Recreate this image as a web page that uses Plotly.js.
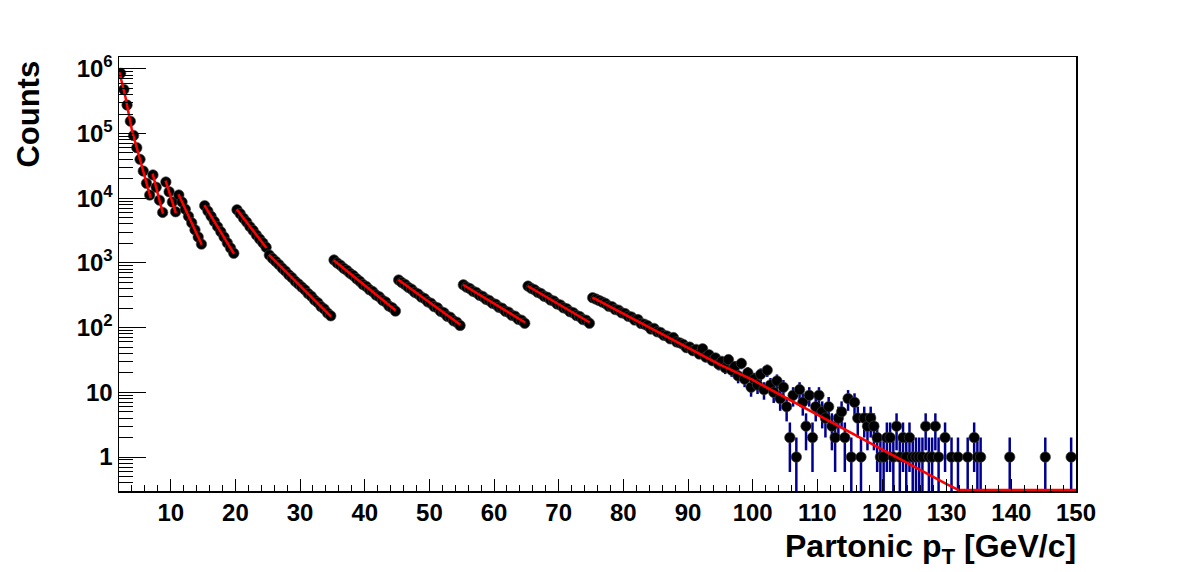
<!DOCTYPE html>
<html><head><meta charset="utf-8">
<script src="https://cdn.plot.ly/plotly-3.0.1.min.js"></script>
<style>html,body{margin:0;padding:0;background:#fff}#chart{width:1196px;height:572px}</style>
</head><body><div id="chart"></div>
<script>
// Histogram definition
const histLow = 2, binWidth = 0.5;

// Bin contents per partonic pT-hat sample
const seg2to7   = [851000, 479000, 275000, 155000, 93300, 60300, 39800, 26300, 17000, 11200];
const seg7to9   = [22900, 14800, 9330, 6030];
const seg9to11  = [17800, 12600, 8710, 6170];
const seg11to15 = [11200, 8710, 6760, 5250, 4170, 3240, 2510, 1950];
const seg15to20 = [7670, 6310, 5250, 4370, 3630, 3020, 2510, 2040, 1700, 1410];
const seg20to25 = [6610, 5750, 4900, 4270, 3630, 3160, 2690, 2340, 2040, 1740];
const seg25to35 = [1320, 1170, 1050, 940, 828, 745, 655, 592, 520, 472, 424, 383, 336, 305, 266, 243, 211, 193, 168, 152];
const seg35to45 = [1110, 995, 918, 826, 765, 688, 636, 570, 518, 462, 432, 385, 360, 318, 299, 265, 248, 215, 203, 180];
const seg45to55 = [545, 496, 463, 418, 392, 350, 331, 297, 281, 250, 238, 211, 202, 178, 170, 150, 144, 127, 121, 108];
const seg55to65 = [458, 422, 401, 365, 349, 316, 303, 274, 263, 238, 229, 206, 199, 179, 173, 155, 150, 134, 130, 117];
const seg65to75 = [438, 404, 385, 351, 336, 305, 294, 266, 257, 232, 224, 202, 195, 176, 170, 154, 148, 133, 130, 117];
const seg75to150 = [
  290, 276, 262, 248, 236, 214, 210, 190, 186, 169,
  165, 150, 146, 131, 133, 116, 113, 107, 95, 97,
  86, 84, 76, 74, 67, 70, 60, 58, 55, 49,
  50, 44, 46, 39, 47, 35, 38, 31, 34, 27,
  30, 24, 32, 22, 25, 18, 28, 16, 20, 12,
  16, 13, 19, 11, 22, 13, 10, 15, 8, 12,
  6, 2, 9, 1, 11, 7, 3, 9, 2, 6,
  9, 5, 4, 6, 3, 2, 4, 5, 2, 8,
  1, 7, 4, 1, 4, 3, 4, 3, 2, 1,
  1, 2, 2, 1, 3, 1, 2, 1, 2, 1,
  1, 1, 1, 3, 1, 1, 3, 1, 0, 2,
  0, 1, 0, 1, 0, 0, 1, 0, 2, 1,
  1, 0, 0, 0, 0, 0, 0, 0, 0, 1,
  0, 0, 0, 0, 0, 0, 0, 0, 0, 0,
  1, 0, 0, 0, 0, 0, 0, 0, 1, 0
];

// Fit curves (red), one list of points per sample
const fitX = [
  [2.05, 3, 4, 5, 6.9],
  [7.2, 8.8],
  [9.2, 10.8],
  [11.2, 14.8],
  [15.2, 19.8],
  [20.2, 24.8],
  [25.2, 30, 34.8],
  [35.2, 44.8],
  [45.2, 54.8],
  [55.2, 64.8],
  [65.2, 74.8],
  [75.2, 85, 95, 100, 110, 120, 125, 130, 131.8, 150]
];
const fitY = [
  [891000, 363000, 112000, 49000, 10000],
  [24000, 5750],
  [18600, 5900],
  [11500, 1900],
  [7800, 1380],
  [6760, 1700],
  [1330, 447, 148],
  [1100, 184],
  [547, 111],
  [460, 120],
  [440, 120],
  [293, 90, 26.5, 15.5, 4.5, 1.28, 0.71, 0.38, 0.31, 0.31]
];

const xTickVals = [10, 20, 30, 40, 50, 60, 70, 80, 90, 100, 110, 120, 130, 140, 150];
const yTickVals = [1, 10, 100, 1e3, 1e4, 1e5, 1e6];
const yTickText = ['1', '10', '10<sup>2</sup>', '10<sup>3</sup>', '10<sup>4</sup>', '10<sup>5</sup>', '10<sup>6</sup>'];

const counts = [].concat(seg2to7, seg7to9, seg9to11, seg11to15, seg15to20, seg20to25,
  seg25to35, seg35to45, seg45to55, seg55to65, seg65to75, seg75to150);
const centers = counts.map((_, i) => histLow + binWidth * (i + 0.5));
const shown = counts.map(c => c > 0 ? c : null);
const errs = counts.map(c => Math.sqrt(c));

let fx = [], fy = [];
fitX.forEach((s, k) => { fx = fx.concat(s, [null]); fy = fy.concat(fitY[k], [null]); });

const FONT = 'Liberation Sans, Arial, Helvetica, sans-serif';

const traces = [
  {
    x: centers, y: shown, type: 'scatter', mode: 'markers',
    marker: {color: '#000', size: 10.5, line: {color: 'rgba(70,70,70,0.6)', width: 1}},
    error_y: {type: 'data', array: errs, symmetric: true, color: '#000090', thickness: 2.5, width: 0},
    hoverinfo: 'x+y', showlegend: false
  },
  {
    x: fx, y: fy, type: 'scatter', mode: 'lines',
    line: {color: '#ff0000', width: 2.5}, connectgaps: false, showlegend: false
  }
];

const layout = {
  width: 1196, height: 572,
  margin: {l: 119, r: 120, t: 57, b: 81},
  paper_bgcolor: '#fff', plot_bgcolor: '#fff',
  showlegend: false,
  font: {family: FONT, color: '#000'},
  xaxis: {
    range: [2, 150], showgrid: false, zeroline: false,
    showline: true, linecolor: '#000', linewidth: 1.5, mirror: true,
    ticks: 'inside', ticklen: 12, tickwidth: 1, tickcolor: '#000',
    tickvals: xTickVals,
    minor: {ticks: 'inside', ticklen: 6, dtick: 2, tick0: 0, tickcolor: '#000', tickwidth: 1, showgrid: false},
    tickfont: {family: FONT, size: 24, weight: 'bold', color: '#000'}
  },
  yaxis: {
    type: 'log', range: [-0.5255, 6.182], showgrid: false, zeroline: false,
    showline: true, linecolor: '#000', linewidth: 1.5, mirror: true,
    ticks: 'inside', ticklen: 27, tickwidth: 1, tickcolor: '#000',
    tickvals: yTickVals, ticktext: yTickText,
    minor: {ticks: 'inside', ticklen: 14, dtick: 'D1', tickcolor: '#000', tickwidth: 1, showgrid: false},
    tickfont: {family: FONT, size: 24, weight: 'bold', color: '#000'}
  },
  annotations: [
    {text: 'Counts', xref: 'paper', yref: 'paper', x: -0.095, y: 1, xanchor: 'center', yanchor: 'top',
     yshift: -2, textangle: -90, showarrow: false,
     font: {family: FONT, size: 31, weight: 'bold', color: '#000'}},
    {text: 'Partonic p<sub>T</sub> [GeV/c]', xref: 'paper', yref: 'paper', x: 1, y: -0.08, xanchor: 'right', yanchor: 'top',
     xshift: 2, showarrow: false,
     font: {family: FONT, size: 32, weight: 'bold', color: '#000'}}
  ]
};

Plotly.newPlot('chart', traces, layout, {staticPlot: true});
</script>
</body></html>
